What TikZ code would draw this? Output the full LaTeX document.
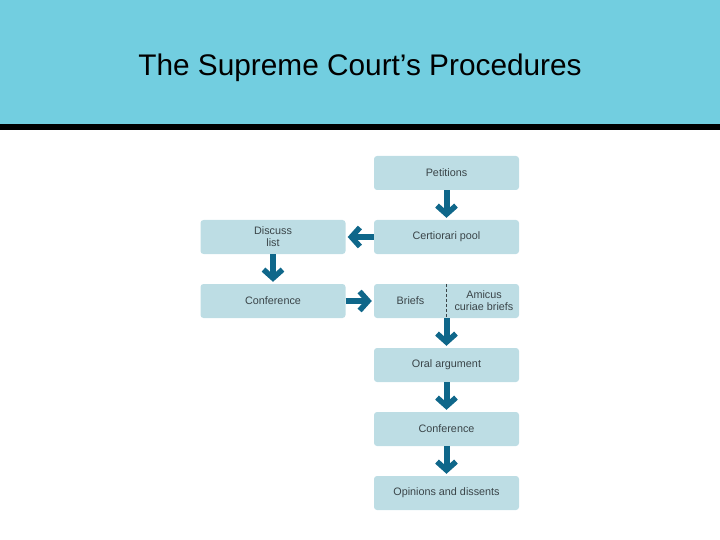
\documentclass[tikz,border=0pt]{standalone}
\usepackage{fontspec}
\setmainfont{Liberation Sans}
\usetikzlibrary{arrows.meta}
\definecolor{headcyan}{HTML}{72CEE0}
\definecolor{boxblue}{HTML}{BDDDE4}
\definecolor{arrowblue}{HTML}{0F678A}
\definecolor{boxtext}{HTML}{3A4448}
\tikzset{
  boxfont/.style={text=boxtext, font=\fontsize{10.8}{12}\selectfont},
  stepbox/.style={fill=boxblue, rounded corners=3pt, minimum width=145pt, minimum height=34pt,
    inner sep=0pt, align=center, boxfont},
  bigarrow/.style={draw=arrowblue, line width=6pt,
    -{Straight Barb[length=8.5pt, width=19pt, line width=5.5pt]}, shorten >=2pt}
}
\begin{document}
\begin{tikzpicture}[x=1pt, y=-1pt]
\useasboundingbox (0,0) rectangle (720,540);
\fill[headcyan] (0,0) rectangle (720,124);
\fill[black] (0,124) rectangle (720,130);
\node[font=\fontsize{29.8}{33}\selectfont, text=black] (title) at (360,68) {The Supreme Court’s Procedures};

\node[stepbox] (pet) at (446.5,173) {Petitions};
\node[stepbox] (cert) at (446.5,237) {Certiorari pool};
\node[stepbox] (disc) at (273,237) {Discuss\\list};
\node[stepbox] (conf1) at (273,301) {Conference};
\node[stepbox] (briefs) at (446.5,301) {};
\node[boxfont] (brieftxt) at (410.5,301) {Briefs};
\node[boxfont, align=center] (amicus) at (484,301) {Amicus\\curiae briefs};
\draw[boxtext, dash pattern=on 3pt off 2pt, line width=0.6pt] (briefs.north) -- (briefs.south);
\node[stepbox] (oral) at (446.5,365) {Oral argument};
\node[stepbox] (conf2) at (446.5,429) {Conference};
\node[stepbox] (opin) at (446.5,493) {Opinions and dissents};

\draw[bigarrow] (pet) -- (cert);
\draw[bigarrow] (cert) -- (disc);
\draw[bigarrow] (disc) -- (conf1);
\draw[bigarrow] (conf1) -- (briefs);
\draw[bigarrow] (briefs) -- (oral);
\draw[bigarrow] (oral) -- (conf2);
\draw[bigarrow] (conf2) -- (opin);
\end{tikzpicture}
\end{document}
